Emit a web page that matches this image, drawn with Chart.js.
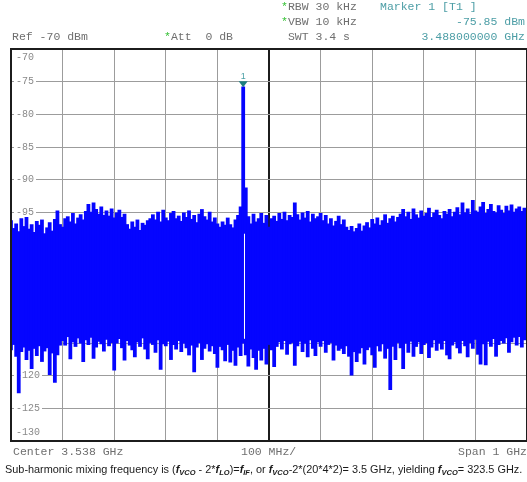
<!DOCTYPE html>
<html><head><meta charset="utf-8">
<script src="https://cdn.jsdelivr.net/npm/chart.js@4.4.1/dist/chart.umd.min.js"></script>
<style>
html,body{margin:0;padding:0;background:#fff}
#wrap{position:relative;width:527px;height:482px;overflow:hidden;font-family:"Liberation Mono","DejaVu Sans Mono",monospace}
canvas{position:absolute;left:0;top:0}
.t{position:absolute;font-size:11.5px;line-height:14px;color:#6f6f6f;white-space:pre}
.star{color:#33c033}
.mk{color:#4d9ea6}
#cap{position:absolute;left:5px;top:463px;font-family:"Liberation Sans",Arial,sans-serif;font-size:10.9px;line-height:13px;color:#1a1a1a;white-space:nowrap}
#cap b{font-style:italic}
#cap sub{font-size:7.5px;vertical-align:-2px;line-height:0}
</style></head>
<body>
<div id="wrap">
<canvas id="c" width="527" height="482"></canvas>
<div class="t" style="left:12px;top:30px">Ref -70 dBm</div>
<div class="t" style="left:164px;top:30px"><span class="star">*</span>Att  0 dB</div>
<div class="t" style="left:281px;top:0px"><span class="star">*</span>RBW 30 kHz</div>
<div class="t" style="left:281px;top:15px"><span class="star">*</span>VBW 10 kHz</div>
<div class="t" style="left:281px;top:30px"> SWT 3.4 s</div>
<div class="t mk" style="left:380px;top:0px">Marker 1 [T1 ]</div>
<div class="t mk" style="right:2px;top:15px">-75.85 dBm</div>
<div class="t mk" style="right:2px;top:30px">3.488000000 GHz</div>
<div class="t" style="left:13px;top:445px">Center 3.538 GHz</div>
<div class="t" style="left:241px;top:445px">100 MHz/</div>
<div class="t" style="right:0px;top:445px">Span 1 GHz</div>
<div id="cap">Sub-harmonic mixing frequency is (<b>f<sub>VCO</sub></b> - 2*<b>f<sub>LO</sub></b>)=<b>f<sub>IF</sub></b>, or <b>f<sub>VCO</sub></b>-2*(20*4*2)= 3.5 GHz, yielding <b>f<sub>VCO</sub></b>= 323.5 GHz.</div>
</div>
<script>
// ---- data ----
const freqStartMHz = 3038;   // center 3.538 GHz, span 1 GHz
const freqStopMHz = 4038;
const freqStepMHz = 5;       // one trace column every 5 MHz
const gridFreqsMHz = [3038, 3138, 3238, 3338, 3438, 3538, 3638, 3738, 3838, 3938, 4038];
const centerFreqMHz = 3538;
const yTickLabels = [-70, -75, -80, -85, -90, -95, -100, -105, -110, -115, -120, -125, -130];
const labelledTicks = [-70, -75, -80, -85, -90, -95, -120, -125, -130];

// upper envelope of the trace per column (dBm)
const upperDbm = [
-96.3,-97.5,-96.8,-98.0,-96.0,-97.2,-95.8,-97.6,-96.9,-98.1,-96.4,
-97.0,-96.2,-98.3,-97.4,-96.6,-97.9,-96.1,-94.8,-96.9,-97.3,
-96.0,-95.7,-96.5,-95.2,-96.8,-95.9,-95.4,-96.2,-94.9,
-93.8,-95.0,-93.6,-94.6,-95.3,-94.2,-95.5,-94.8,-95.6,-94.5,-95.9,-95.1,-94.7,-95.8,-95.3,
-96.9,-97.6,-96.5,-97.3,-96.2,-97.8,-96.7,-97.0,-96.3,-96.0,
-95.4,-96.2,-95.0,-96.5,-94.7,-95.9,-96.3,-95.2,-94.9,-96.0,-95.6,-96.4,-95.1,-95.8,-94.8,-96.1,-95.5,-96.6,-95.3,-94.6,-95.7,-96.2,-95.0,-96.5,-95.9,
-96.8,-97.3,-96.5,-97.0,-95.9,-96.9,-97.4,-96.2,-95.5,-94.2,
-75.85,
-91.3,-95.7,-96.8,-95.3,-96.5,-96.0,-95.2,-96.7,-95.5,
-97.3,-96.0,-95.6,-96.4,-95.2,-96.1,-95.0,-96.3,-95.5,-95.8,-93.6,-95.4,-96.2,-95.1,-95.9,-94.9,-96.5,-95.3,-96.0,-95.7,-95.2,
-96.3,-95.5,-96.8,-96.0,-97.1,-96.4,-95.6,-96.9,-96.2,-97.3,-97.8,-97.2,-98.0,-97.5,-96.8,-97.9,-97.1,-96.6,-97.4,-96.1,-96.8,-95.9,-97.0,-96.3,-95.4,-96.7,-96.0,-95.6,-96.5,-95.8,
-95.3,-94.6,-95.7,-95.0,-96.1,-94.5,-95.4,-95.9,-94.8,-95.6,-95.2,-94.4,-95.8,-95.1,-94.7,-95.5,-96.0,-94.9,-95.3,-94.6,-95.7,-95.0,-94.3,-95.4,
-93.6,-95.1,-94.5,-95.3,-93.2,-94.8,-95.0,-94.2,-93.5,-95.2,-94.6,-93.8,-94.9,-95.1,-94.0,
-94.7,-95.2,-94.1,-94.8,-93.9,-95.0,-94.5,-94.2,-94.9,-94.4,-94.6
];
// lower envelope of the trace per column (dBm)
const lowerDbm = [
-116.0,-115.2,-117.0,-122.6,-116.3,-115.6,-117.5,-116.1,-118.9,-115.8,-116.9,-115.4,-117.8,-116.2,-115.7,-119.8,-116.5,-121.0,-116.8,-115.3,
-114.6,-115.3,-114.0,-117.4,-114.8,-115.5,-114.2,-115.0,-117.8,-114.5,-115.2,-114.1,-117.3,-115.6,-114.7,-115.1,-116.2,-114.4,-115.4,-114.9,
-119.1,-115.0,-114.3,-115.7,-117.6,-114.6,-115.3,-116.0,-117.1,-114.8,-115.5,-114.2,-115.9,-117.4,-114.9,-115.2,-116.4,-114.5,-119.0,-115.1,
-115.4,-114.7,-117.5,-115.2,-115.9,-114.6,-116.3,-115.0,-115.7,-116.8,-115.3,-119.4,-115.6,-114.9,-117.5,-115.8,-115.1,-116.2,-115.4,-116.6,
-118.7,-115.5,-116.0,-117.7,-115.2,-117.9,-116.1,-118.4,-115.6,-116.9,
-115.0,
-116.8,-118.5,-115.9,-117.2,-119.0,-116.1,-117.6,-115.8,-118.2,
-115.2,-116.0,-118.6,-115.5,-114.8,-115.9,-114.6,-116.7,-115.1,-114.9,-118.4,-115.4,-114.7,-116.3,-115.0,-117.1,-114.5,-115.8,-116.9,-114.8,-115.5,
-114.6,-116.4,-115.2,-114.9,-117.6,-115.3,-116.1,-115.8,-116.6,-115.4,-117.0,-119.9,-116.3,-117.8,-116.5,-115.7,-118.2,-116.0,-115.6,-116.8,
-118.7,-115.4,-116.2,-115.1,-117.3,-115.8,-122.1,-115.5,-117.5,-114.9,
-115.7,-118.9,-115.0,-116.4,-114.7,-117.0,-115.5,-114.8,-116.6,-115.2,-114.9,-117.2,-115.6,-114.5,-116.1,-115.0,-115.9,-114.6,-116.8,-117.4,
-115.3,-114.8,-115.7,-116.5,-114.6,-115.4,-117.1,-114.9,-115.8,-114.4,-116.7,-118.2,-115.1,-118.3,-114.7,-115.5,-114.3,-117.0,-115.2,-114.6,
-115.0,-114.2,-116.4,-114.8,-114.1,-115.3,-114.0,-115.6,-114.5,-113.9
];
// small gap in the noise right beside the carrier
const notchFreqMHz = 3490.5;
const notchTopDbm = -98.3;
const notchBottomDbm = -114.3;
// marker 1
const markerFreqMHz = 3488;
const markerLevelDbm = -75.85;
const markerLabel = '1';

// ---- build ----
const traceData = upperDbm.map((u, i) => ({ x: freqStartMHz + i * freqStepMHz, y: [lowerDbm[i], u] }));
const notchData = [{ x: notchFreqMHz, y: notchTopDbm }, { x: notchFreqMHz, y: notchBottomDbm }];

const overlay = {
  id: 'overlay',
  beforeDatasetsDraw(chart) {
    const { ctx, chartArea: a, scales: { y } } = chart;
    ctx.save();
    ctx.font = '10px "Liberation Mono", monospace';
    ctx.textBaseline = 'middle';
    labelledTicks.forEach(v => {
      let py = y.getPixelForValue(v);
      if (v === yTickLabels[0]) py += 8;
      if (v === yTickLabels[yTickLabels.length - 1]) py -= 9;
      const txt = String(v);
      const w = ctx.measureText(txt).width;
      ctx.fillStyle = '#fff';
      ctx.fillRect(a.left + 3, py - 5, w + 4, 10);
      ctx.fillStyle = '#8a8a8a';
      ctx.fillText(txt, a.left + 5, py);
    });
    ctx.restore();
  },
  afterDraw(chart) {
    const { ctx, chartArea: a, scales: { x, y } } = chart;
    ctx.save();
    ctx.strokeStyle = '#1c1c1c';
    ctx.lineWidth = 2;
    ctx.strokeRect(a.left, a.top, a.right - a.left, a.bottom - a.top);
    const px = x.getPixelForValue(markerFreqMHz);
    const py = y.getPixelForValue(markerLevelDbm);
    ctx.fillStyle = '#1e7f80';
    ctx.beginPath();
    ctx.moveTo(px, py);
    ctx.lineTo(px - 4.5, py - 6);
    ctx.lineTo(px + 4.5, py - 6);
    ctx.closePath();
    ctx.fill();
    ctx.font = '9px "Liberation Sans", sans-serif';
    ctx.textAlign = 'center';
    ctx.textBaseline = 'alphabetic';
    ctx.fillStyle = '#4aa0a6';
    ctx.fillText(markerLabel, px, py - 8);
    ctx.restore();
  }
};

new Chart(document.getElementById('c'), {
  type: 'bar',
  data: {
    datasets: [
      { type: 'line', data: notchData, borderColor: '#ffffff', borderWidth: 1, pointRadius: 0, order: 0, fill: false },
      { type: 'bar', data: traceData, backgroundColor: '#0505ff', borderColor: '#0505ff', borderWidth: 0, inflateAmount: 0.6, barPercentage: 1, categoryPercentage: 1, grouped: false, order: 1 }
    ]
  },
  options: {
    responsive: false,
    animation: false,
    devicePixelRatio: 1,
    layout: { padding: { left: 11, right: -1.5, top: 49, bottom: 41 } },
    plugins: { legend: { display: false }, tooltip: { enabled: false } },
    scales: {
      x: {
        type: 'linear', min: freqStartMHz, max: freqStopMHz, offset: false,
        afterBuildTicks: s => { s.ticks = gridFreqsMHz.map(v => ({ value: v })); },
        ticks: { display: false },
        grid: {
          offset: false,
          drawTicks: false,
          color: c => c.tick && c.tick.value === centerFreqMHz ? '#1c1c1c' : '#9c9c9c',
          lineWidth: c => c.tick && c.tick.value === centerFreqMHz ? 2 : 1
        },
        border: { display: false }
      },
      y: {
        type: 'linear', min: -130, max: -70,
        afterBuildTicks: s => { s.ticks = yTickLabels.map(v => ({ value: v })); },
        ticks: { display: false },
        grid: { drawTicks: false, color: '#9c9c9c', lineWidth: 1 },
        border: { display: false }
      }
    }
  },
  plugins: [overlay]
});
</script>
</body></html>
